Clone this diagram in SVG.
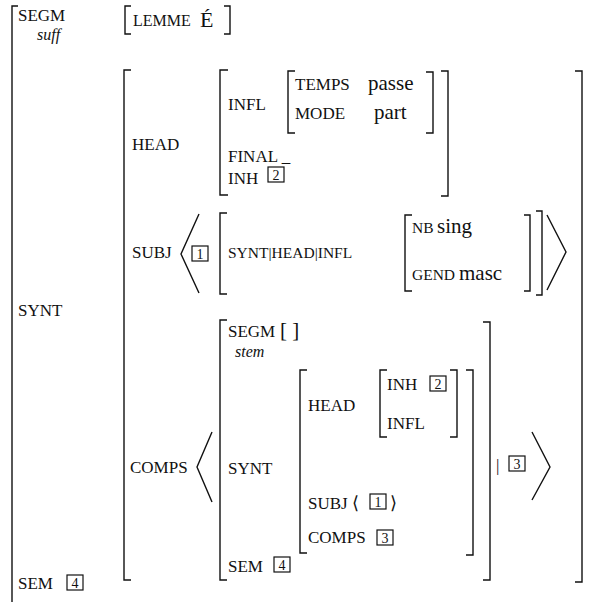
<svg xmlns="http://www.w3.org/2000/svg" width="589" height="602" viewBox="0 0 589 602">
<style>
.f{font-family:"Liberation Serif","Times New Roman",serif;font-size:17px;fill:#111}
.s{font-family:"Liberation Serif","Times New Roman",serif;font-size:15.5px;fill:#111}
.v{font-family:"Liberation Serif","Times New Roman",serif;font-size:21px;fill:#111}
.i{font-family:"Liberation Serif","Times New Roman",serif;font-size:16px;font-style:italic;fill:#111}
.n{font-family:"Liberation Serif","Times New Roman",serif;font-size:14px;fill:#111;text-anchor:middle}
.a{font-family:"DejaVu Sans",sans-serif;font-size:18px;fill:#111}
.br{fill:none;stroke:#111;stroke-width:1.4}
.bx{fill:none;stroke:#111;stroke-width:1.2}
</style>
<defs>
<g id="box"><rect class="bx" x="0" y="0" width="16" height="15"/></g>
</defs>
<g id="brackets">
<path class="br" d="M18,6 H12 V602"/>
<path class="br" d="M131,6 H125 V34 H131 M224,6 H230 V34 H224"/>
<path class="br" d="M131,70 H124 V580 H131 M575,71 H582 V582 H575"/>
<path class="br" d="M228,70 H220 V195 H228 M441,71 H448 V196 H441"/>
<path class="br" d="M295,71 H288 V133 H295 M426,72 H433 V133 H426"/>
<path class="br" d="M227,213 H220 V294 H227 M536,211 H542 V295 H536"/>
<path class="br" d="M412,215 H405 V291 H412 M524,215 H530 V291 H524"/>
<path class="br" d="M227,320 H220 V580 H227 M483,322 H490 V580 H483"/>
<path class="br" d="M307,370 H300 V553 H307 M466,370 H473 V555 H466"/>
<path class="br" d="M387,370 H380 V437 H387 M450,370 H457 V437 H450"/>
<path class="br" d="M199,214 L181,254 L199,293 M547,215 L566,252 L547,290"/>
<path class="br" d="M212,432 L197,467 L212,502 M532,432 L550,467 L532,500"/>
</g>
<g id="top">
<text class="f" x="18" y="21">SEGM</text>
<text class="i" x="37" y="40">suff</text>
<text class="f" x="133" y="26" style="font-size:16px">LEMME</text>
<text class="v" x="200" y="27" style="font-size:22px">É</text>
</g>
<g id="head">
<text class="f" x="132" y="150">HEAD</text>
<text class="f" x="228" y="110">INFL</text>
<text class="f" x="295" y="90">TEMPS</text>
<text class="v" x="368" y="90">passe</text>
<text class="f" x="295" y="119">MODE</text>
<text class="v" x="374" y="119">part</text>
<text class="f" x="228" y="162">FINAL _</text>
<text class="f" x="228" y="184">INH</text>
<use href="#box" x="268" y="167"/><text class="n" x="276" y="180">2</text>
</g>
<g id="subj">
<text class="f" x="132" y="258">SUBJ</text>
<use href="#box" x="192" y="246"/><text class="n" x="200" y="259">1</text>
<text class="s" x="228" y="258">SYNT|HEAD|INFL</text>
<text class="s" x="412" y="233">NB</text>
<text class="v" x="437" y="233">sing</text>
<text class="s" x="412" y="280">GEND</text>
<text class="v" x="459" y="280">masc</text>
</g>
<g id="synt-label">
<text class="f" x="18" y="316">SYNT</text>
</g>
<g id="comps">
<text class="f" x="130" y="473">COMPS</text>
<text class="f" x="228" y="337">SEGM</text>
<text class="v" x="280" y="337">[ ]</text>
<text class="i" x="235" y="357">stem</text>
<text class="f" x="228" y="474">SYNT</text>
<text class="f" x="308" y="411">HEAD</text>
<text class="f" x="387" y="390">INH</text>
<use href="#box" x="430" y="376"/><text class="n" x="438" y="389">2</text>
<text class="f" x="387" y="429">INFL</text>
<text class="f" x="308" y="509">SUBJ</text>
<text class="a" x="352" y="509">⟨</text>
<use href="#box" x="370" y="494"/><text class="n" x="378" y="507">1</text>
<text class="a" x="390" y="509">⟩</text>
<text class="f" x="308" y="543">COMPS</text>
<use href="#box" x="377" y="530"/><text class="n" x="385" y="543">3</text>
<text class="f" x="228" y="572">SEM</text>
<use href="#box" x="274" y="557"/><text class="n" x="282" y="570">4</text>
<text class="f" x="496" y="471">|</text>
<use href="#box" x="509" y="456"/><text class="n" x="517" y="469">3</text>
</g>
<g id="sem">
<text class="f" x="18" y="589">SEM</text>
<use href="#box" x="67" y="575"/><text class="n" x="75" y="588">4</text>
</g>
</svg>
